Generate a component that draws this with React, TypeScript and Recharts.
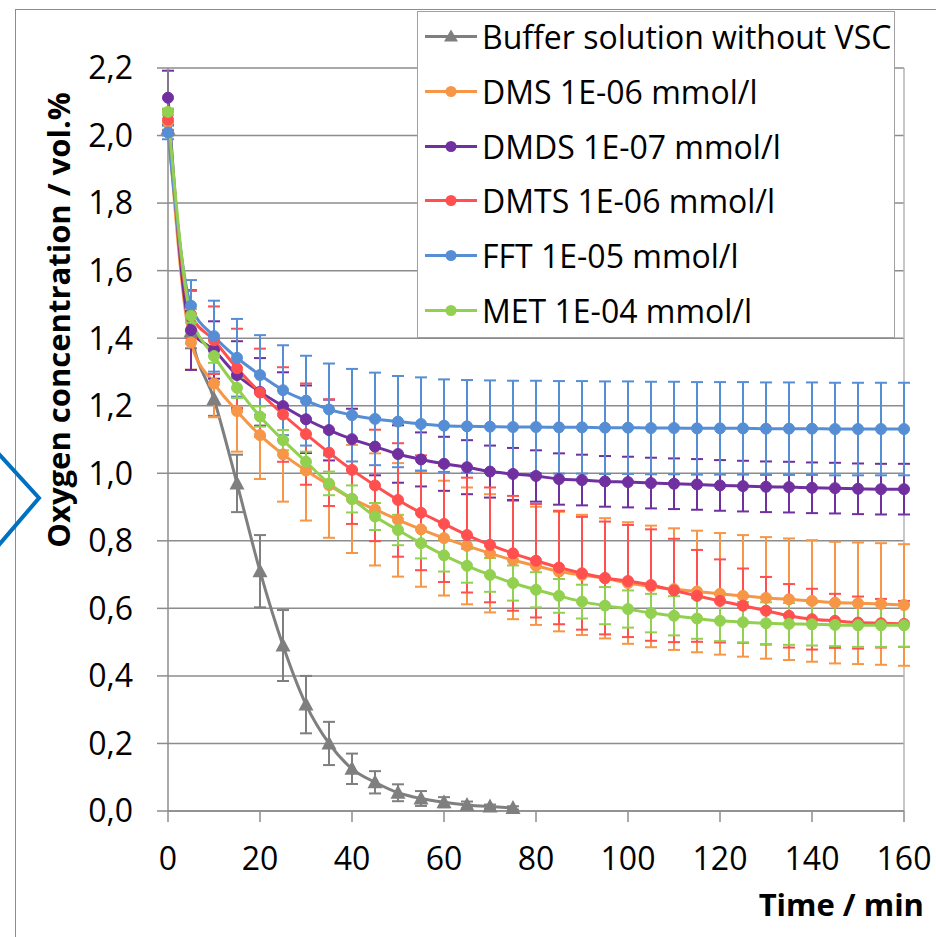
import React from 'react';
import { LineChart, Line, XAxis, YAxis, CartesianGrid, ErrorBar, Legend, ReferenceLine } from 'recharts';

// time points (min)
const times = [0, 5, 10, 15, 20, 25, 30, 35, 40, 45, 50, 55, 60, 65, 70, 75, 80, 85, 90, 95, 100, 105, 110, 115, 120, 125, 130, 135, 140, 145, 150, 155, 160];

// buffer was only measured until 75 min
const bufferVals = [2.02, 1.42, 1.22, 0.97, 0.71, 0.49, 0.315, 0.2, 0.125, 0.085, 0.054, 0.037, 0.026, 0.018, 0.013, 0.009];
const bufferErr = [0.02, 0.05, 0.05, 0.085, 0.107, 0.105, 0.085, 0.064, 0.045, 0.033, 0.025, 0.022, 0.015, 0.01, 0.006, 0.005];

const dmsVals = [2.04, 1.387, 1.266, 1.184, 1.113, 1.056, 1.008, 0.965, 0.924, 0.893, 0.862, 0.834, 0.808, 0.785, 0.763, 0.743, 0.726, 0.709, 0.699, 0.689, 0.675, 0.665, 0.657, 0.65, 0.643, 0.637, 0.631, 0.627, 0.622, 0.617, 0.615, 0.613, 0.61];
const dmsErr = [0.03, 0.08, 0.1, 0.12, 0.13, 0.14, 0.148, 0.156, 0.16, 0.166, 0.168, 0.17, 0.17, 0.173, 0.175, 0.175, 0.175, 0.177, 0.178, 0.178, 0.18, 0.18, 0.18, 0.18, 0.18, 0.18, 0.18, 0.18, 0.18, 0.18, 0.18, 0.18, 0.18];

const dmdsVals = [2.112, 1.424, 1.365, 1.291, 1.241, 1.199, 1.16, 1.128, 1.101, 1.079, 1.057, 1.041, 1.028, 1.018, 1.005, 0.998, 0.992, 0.983, 0.98, 0.976, 0.974, 0.971, 0.969, 0.967, 0.964, 0.962, 0.96, 0.959, 0.957, 0.956, 0.954, 0.953, 0.953];
const dmdsErr = [0.08, 0.118, 0.085, 0.1, 0.1, 0.1, 0.1, 0.09, 0.09, 0.085, 0.085, 0.08, 0.08, 0.08, 0.077, 0.077, 0.076, 0.076, 0.075, 0.075, 0.075, 0.075, 0.075, 0.075, 0.075, 0.075, 0.075, 0.075, 0.075, 0.075, 0.075, 0.075, 0.075];

const dmtsVals = [2.047, 1.47, 1.394, 1.311, 1.239, 1.174, 1.116, 1.061, 1.01, 0.964, 0.921, 0.883, 0.85, 0.817, 0.788, 0.763, 0.741, 0.721, 0.704, 0.69, 0.681, 0.669, 0.653, 0.637, 0.622, 0.608, 0.593, 0.578, 0.568, 0.563, 0.558, 0.556, 0.554];
const dmtsErr = [0.03, 0.07, 0.1, 0.117, 0.13, 0.14, 0.15, 0.158, 0.16, 0.165, 0.168, 0.17, 0.172, 0.17, 0.17, 0.17, 0.168, 0.168, 0.167, 0.167, 0.166, 0.165, 0.153, 0.136, 0.123, 0.11, 0.1, 0.094, 0.09, 0.08, 0.077, 0.072, 0.068];

const fftVals = [2.009, 1.496, 1.406, 1.342, 1.291, 1.246, 1.215, 1.189, 1.172, 1.161, 1.153, 1.146, 1.141, 1.139, 1.138, 1.137, 1.137, 1.136, 1.136, 1.135, 1.135, 1.134, 1.134, 1.133, 1.133, 1.133, 1.132, 1.132, 1.132, 1.131, 1.131, 1.131, 1.131];
const fftErr = [0.02, 0.076, 0.105, 0.115, 0.118, 0.133, 0.133, 0.136, 0.137, 0.137, 0.135, 0.138, 0.137, 0.137, 0.137, 0.137, 0.137, 0.137, 0.137, 0.137, 0.137, 0.137, 0.137, 0.137, 0.137, 0.137, 0.137, 0.137, 0.137, 0.137, 0.137, 0.137, 0.137];

const metVals = [2.07, 1.466, 1.347, 1.253, 1.168, 1.098, 1.034, 0.97, 0.924, 0.872, 0.832, 0.793, 0.757, 0.726, 0.699, 0.675, 0.655, 0.637, 0.62, 0.608, 0.598, 0.586, 0.578, 0.57, 0.563, 0.559, 0.556, 0.554, 0.553, 0.551, 0.55, 0.55, 0.55];
const metErr = [0.01, 0.02, 0.02, 0.03, 0.03, 0.03, 0.03, 0.035, 0.04, 0.04, 0.045, 0.045, 0.048, 0.05, 0.05, 0.052, 0.052, 0.05, 0.05, 0.055, 0.055, 0.057, 0.058, 0.06, 0.06, 0.06, 0.062, 0.062, 0.063, 0.063, 0.064, 0.064, 0.064];

const xTicks = [0, 20, 40, 60, 80, 100, 120, 140, 160];
const yTicks = [0, 0.2, 0.4, 0.6, 0.8, 1.0, 1.2, 1.4, 1.6, 1.8, 2.0, 2.2];

const data = times.map((t, i) => ({
  t,
  buffer: bufferVals[i] ?? null,
  bufferErr: bufferErr[i] ?? null,
  dms: dmsVals[i],
  dmsErr: dmsErr[i],
  dmds: dmdsVals[i],
  dmdsErr: dmdsErr[i],
  dmts: dmtsVals[i],
  dmtsErr: dmtsErr[i],
  fft: fftVals[i],
  fftErr: fftErr[i],
  met: metVals[i],
  metErr: metErr[i],
}));

const series = [
  { key: 'buffer', name: 'Buffer solution without VSC', color: '#7f7f7f', triangle: true },
  { key: 'dms', name: 'DMS 1E-06 mmol/l', color: '#F79646' },
  { key: 'dmds', name: 'DMDS 1E-07 mmol/l', color: '#7030A0' },
  { key: 'dmts', name: 'DMTS 1E-06 mmol/l', color: '#FF4F4F' },
  { key: 'fft', name: 'FFT 1E-05 mmol/l', color: '#558ED5' },
  { key: 'met', name: 'MET 1E-04 mmol/l', color: '#92D050' },
];

const FONT = "'Open Sans', sans-serif";
const GRID = '#8c8c8c';

const triangleDot = (props: any) => {
  const { cx, cy, index } = props;
  if (cx == null || cy == null || isNaN(cy)) return <g key={`tri-${index}`} />;
  return <path key={`tri-${index}`} d={`M${cx},${cy - 8} L${cx + 7.5},${cy + 6} L${cx - 7.5},${cy + 6} Z`} fill="#7f7f7f" />;
};

const renderLegend = () => (
  <div style={{ width: 478, height: 327, background: '#fff', border: '1.5px solid #a0a0a0', fontFamily: FONT, boxSizing: 'border-box' }}>
    <div style={{ transform: 'translateY(-2.5px)' }}>
      {series.map((s) => (
        <div key={s.key} style={{ display: 'flex', alignItems: 'center', height: 54.7 }}>
          <svg width={58} height={20} style={{ marginLeft: 6 }}>
            <line x1={1} y1={10} x2={53} y2={10} stroke={s.color} strokeWidth={3} />
            {s.triangle ? (
              <path d="M27,3 L34,15 L20,15 Z" fill={s.color} />
            ) : (
              <circle cx={27} cy={10} r={5.5} fill={s.color} />
            )}
          </svg>
          <span style={{ fontSize: 32, color: '#000', whiteSpace: 'nowrap', lineHeight: 1 }}>{s.name}</span>
        </div>
      ))}
    </div>
  </div>
);

export default function App() {
  return (
    <div style={{ position: 'absolute', left: 0, top: 0, width: 936, height: 937, background: '#fff', overflow: 'hidden', fontFamily: FONT }}>
      {/* frame of the chart area */}
      <div style={{ position: 'absolute', left: 15, top: 9, width: 930, height: 940, borderLeft: '1.5px solid #8c8c8c', borderTop: '1.5px solid #8c8c8c' }} />
      <svg width={50} height={120} style={{ position: 'absolute', left: 0, top: 440 }}>
        <polyline points="-2,13 39,58 -2,106" fill="none" stroke="#0070C0" strokeWidth={4} />
      </svg>
      <div style={{ position: 'absolute', left: 0, top: 0 }}>
        <LineChart width={936} height={937} data={data} margin={{ top: 68, right: 32, bottom: 66, left: 0 }}>
          <CartesianGrid vertical={false} stroke={GRID} strokeWidth={1.5} />
          <XAxis
            dataKey="t"
            type="number"
            domain={[0, 160]}
            ticks={xTicks}
            height={60}
            tickSize={11}
            tickMargin={25}
            axisLine={{ stroke: GRID, strokeWidth: 1.5 }}
            tickLine={{ stroke: GRID, strokeWidth: 1.5 }}
            tick={{ fill: '#000', fontSize: 32, fontFamily: FONT }}
          />
          <YAxis
            type="number"
            domain={[0, 2.2]}
            ticks={yTicks}
            width={168}
            tickSize={11}
            tickMargin={24}
            axisLine={{ stroke: GRID, strokeWidth: 1.5 }}
            tickLine={{ stroke: GRID, strokeWidth: 1.5 }}
            tick={{ fill: '#000', fontSize: 32, fontFamily: FONT }}
            tickFormatter={(v: number) => v.toFixed(1).replace('.', ',')}
          />
          <ReferenceLine x={160} stroke="#b5b5b5" strokeWidth={1.5} />
          {series.map((s) => (
            <Line
              key={s.key}
              dataKey={s.key}
              name={s.name}
              type="monotone"
              stroke={s.color}
              strokeWidth={3}
              dot={s.triangle ? triangleDot : { r: 5.5, fill: s.color, stroke: s.color, strokeWidth: 1 }}
              activeDot={false}
              isAnimationActive={false}
            >
              <ErrorBar dataKey={`${s.key}Err`} direction="y" width={6} stroke={s.color} strokeWidth={2} isAnimationActive={false} />
            </Line>
          ))}
          <Legend
            layout="vertical"
            align="center"
            verticalAlign="middle"
            wrapperStyle={{ left: 417, top: 11, width: 478 }}
            content={renderLegend}
          />
        </LineChart>
      </div>
      <div style={{ position: 'absolute', left: 58, top: 320, transform: 'translate(-50%, -50%) rotate(-90deg)', whiteSpace: 'nowrap', fontWeight: 700, fontSize: 31, color: '#000' }}>
        Oxygen concentration / vol.%
      </div>
      <div style={{ position: 'absolute', right: 12, top: 883, whiteSpace: 'nowrap', fontWeight: 700, fontSize: 31, color: '#000' }}>
        Time / min
      </div>
    </div>
  );
}
